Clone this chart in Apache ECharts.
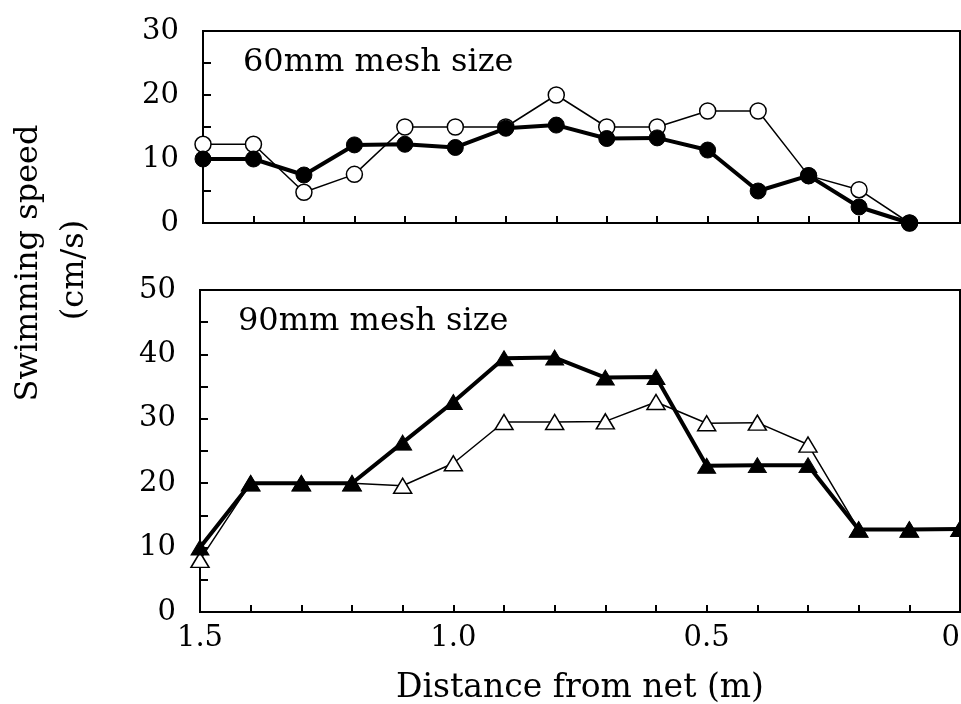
<!DOCTYPE html>
<html>
<head>
<meta charset="utf-8">
<title>Swimming speed vs distance from net</title>
<script src="https://cdn.jsdelivr.net/npm/echarts@6/dist/echarts.min.js"></script>
<style>
html, body { margin: 0; padding: 0; background: #fff; }
#main { width: 961px; height: 704px; }
</style>
</head>
<body>
<div id="main"></div>
<script>
// distance from net (m)
var dist60 = [1.5, 1.4, 1.3, 1.2, 1.1, 1.0, 0.9, 0.8, 0.7, 0.6, 0.5, 0.4, 0.3, 0.2, 0.1];
var dist90 = [1.5, 1.4, 1.3, 1.2, 1.1, 1.0, 0.9, 0.8, 0.7, 0.6, 0.5, 0.4, 0.3, 0.2, 0.1, 0];

// 60mm mesh size (cm/s)
var open60   = [12.3, 12.3, 4.8, 7.6, 15, 15, 15, 20, 15, 15, 17.5, 17.5, 7.4, 5.2, 0];
var filled60 = [10, 10, 7.5, 12.2, 12.3, 11.8, 14.8, 15.3, 13.2, 13.3, 11.4, 5, 7.4, 2.5, 0];

// 90mm mesh size (cm/s)
var open90   = [8.1, 20, 20, 20, 19.6, 23.1, 29.5, 29.5, 29.6, 32.6, 29.3, 29.4, 26, 12.8, 12.8, 12.9];
var filled90 = [10, 20, 20, 20, 26.3, 32.6, 39.4, 39.5, 36.4, 36.5, 22.7, 22.8, 22.8, 12.8, 12.8, 12.9];

var xTickLabels = ['1.5', '1.0', '0.5', '0'];

var FONT = '"DejaVu Serif", "Liberation Serif", serif';

function pairs(xs, ys) {
    var out = [];
    for (var i = 0; i < xs.length; i++) {
        out.push([xs[i], ys[i]]);
    }
    return out;
}

function xLabel(v) {
    var s = Math.abs(v) < 1e-9 ? '0' : v.toFixed(1);
    if (Math.abs(v * 2 - Math.round(v * 2)) > 1e-6) return '';
    return xTickLabels.indexOf(s) >= 0 ? s : '';
}

function xAxisOpt(idx, showLabels) {
    return {
        gridIndex: idx,
        type: 'value',
        min: 0,
        max: 1.5,
        interval: 0.1,
        inverse: true,
        axisLine: {show: true, onZero: false, lineStyle: {color: '#000', width: 2}},
        axisTick: {show: true, inside: true, length: 7, lineStyle: {color: '#000', width: 2}},
        splitLine: {show: false},
        axisLabel: {
            show: showLabels,
            margin: 12,
            color: '#000',
            fontFamily: FONT,
            fontSize: 29,
            alignMinLabel: 'right',
            formatter: xLabel
        }
    };
}

function yAxisOpt(idx, max) {
    return {
        gridIndex: idx,
        type: 'value',
        min: 0,
        max: max,
        interval: 5,
        axisLine: {show: true, onZero: false, lineStyle: {color: '#000', width: 2}},
        axisTick: {show: true, inside: true, length: 8, lineStyle: {color: '#000', width: 2}},
        splitLine: {show: false},
        axisLabel: {
            margin: 24,
            color: '#000',
            fontFamily: FONT,
            fontSize: 29,
            formatter: function (v) { return v % 10 === 0 ? String(v) : ''; }
        }
    };
}

function openSeries(idx, data, symbol, size) {
    return {
        type: 'line',
        xAxisIndex: idx,
        yAxisIndex: idx,
        data: data,
        symbol: symbol,
        symbolSize: size,
        lineStyle: {color: '#000', width: 1.5},
        itemStyle: {color: '#fff', borderColor: '#000', borderWidth: 1.5},
        z: 2
    };
}

function filledSeries(idx, data, symbol, size) {
    return {
        type: 'line',
        xAxisIndex: idx,
        yAxisIndex: idx,
        data: data,
        symbol: symbol,
        symbolSize: size,
        lineStyle: {color: '#000', width: 4},
        itemStyle: {color: '#000', borderColor: '#000', borderWidth: 1},
        z: 3
    };
}

var chart = echarts.init(document.getElementById('main'));

var option = {
    animation: false,
    backgroundColor: '#fff',
    grid: [
        {left: 203, top: 31, right: 1, height: 192, outerBoundsMode: 'none', containLabel: false,
         show: true, borderColor: '#000', borderWidth: 2, backgroundColor: 'transparent'},
        {left: 200, top: 290, right: 1, height: 322, outerBoundsMode: 'none', containLabel: false,
         show: true, borderColor: '#000', borderWidth: 2, backgroundColor: 'transparent'}
    ],
    xAxis: [
        xAxisOpt(0, false),
        (function () {
            var a = xAxisOpt(1, true);
            a.name = 'Distance from net (m)';
            a.nameLocation = 'middle';
            a.nameGap = 60;
            a.nameTextStyle = {color: '#000', fontFamily: FONT, fontSize: 33};
            return a;
        })()
    ],
    yAxis: [
        yAxisOpt(0, 30),
        yAxisOpt(1, 50)
    ],
    graphic: [
        {
            type: 'text', x: 29, y: 263, rotation: Math.PI / 2,
            style: {text: 'Swimming speed', fill: '#000', font: '32px ' + FONT,
                    align: 'center', verticalAlign: 'middle', textAlign: 'center', textVerticalAlign: 'middle'}
        },
        {
            type: 'text', x: 75, y: 270, rotation: Math.PI / 2,
            style: {text: '(cm/s)', fill: '#000', font: '32px ' + FONT,
                    align: 'center', verticalAlign: 'middle', textAlign: 'center', textVerticalAlign: 'middle'}
        },
        {
            type: 'text', x: 243, y: 63,
            style: {text: '60mm mesh size', fill: '#000', font: '32px ' + FONT,
                    align: 'left', verticalAlign: 'middle', textAlign: 'left', textVerticalAlign: 'middle'}
        },
        {
            type: 'text', x: 238, y: 322,
            style: {text: '90mm mesh size', fill: '#000', font: '32px ' + FONT,
                    align: 'left', verticalAlign: 'middle', textAlign: 'left', textVerticalAlign: 'middle'}
        }
    ],
    series: [
        openSeries(0, pairs(dist60, open60), 'circle', 16),
        filledSeries(0, pairs(dist60, filled60), 'circle', 16),
        openSeries(1, pairs(dist90, open90), 'triangle', [18, 15]),
        filledSeries(1, pairs(dist90, filled90), 'triangle', [18, 15])
    ]
};

chart.setOption(option);
</script>
</body>
</html>
